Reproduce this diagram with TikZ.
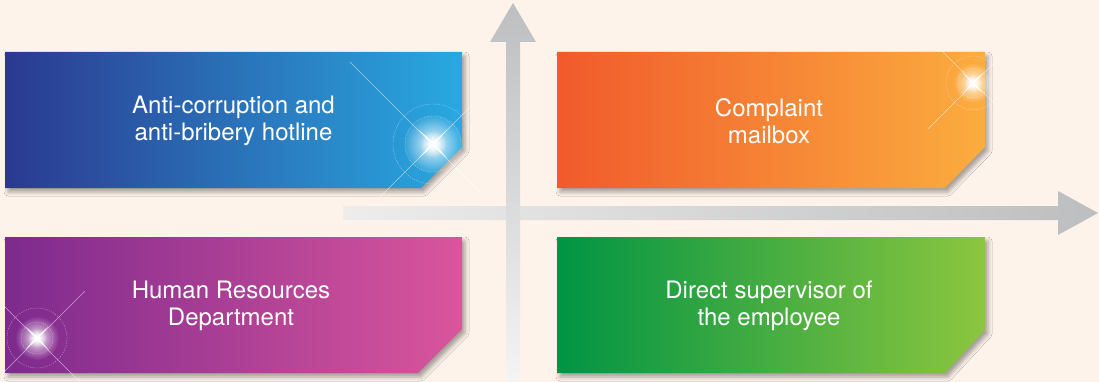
\documentclass[tikz,border=0pt]{standalone}
\usepackage{fontspec}
\setmainfont{TeX Gyre Heros}
\usetikzlibrary{shadows,shadows.blur,fadings}
\tikzfading[name=glowfade, inner color=transparent!0, outer color=transparent!100]
\definecolor{bg}{HTML}{FDF3EB}
\definecolor{arrowgray}{HTML}{BCBEC0}
\definecolor{arrowlight}{HTML}{EEEDEC}
\definecolor{blueL}{HTML}{2B3990}
\definecolor{blueR}{HTML}{29A9E0}
\definecolor{orangeL}{HTML}{F15A2B}
\definecolor{orangeR}{HTML}{FBAD3F}
\definecolor{purpleL}{HTML}{7D2A8E}
\definecolor{purpleR}{HTML}{DA559C}
\definecolor{greenL}{HTML}{009444}
\definecolor{greenR}{HTML}{8CC63F}
\tikzset{
  card/.style={blur shadow={shadow xshift=3pt,shadow yshift=-4pt,shadow blur radius=4pt,shadow opacity=35}},
  lbl/.style={text=white,align=center,font=\fontsize{24}{27.5}\selectfont,inner sep=0pt},
  ray/.style={white,line width=0.6pt,opacity=0.55},
  ring/.style={white,line width=0.4pt,opacity=0.5,dash pattern=on 1.2pt off 1.2pt},
}
\newcommand{\glint}[6]{% x y glowradius starsize ring1 ring2
  \begin{scope}[shift={(#1,#2)}]
    \draw[ring] (0,0) circle (#5);
    \draw[ring] (0,0) circle (#6);
    \fill[white,path fading=glowfade,opacity=0.9] (0,0) circle (#3);
    \fill[white,path fading=glowfade] (0,0) circle (#3*0.45);
    \fill[white,opacity=0.9] (#4,#4) -- (1.6,0) -- (#4,-#4) -- (0,-1.6) -- (-#4,-#4) -- (-1.6,0) -- (-#4,#4) -- (0,1.6) -- cycle;
    \fill[white,opacity=0.8] (#4*0.6,0) -- (0,0.9) -- (-#4*0.6,0) -- (0,-0.9) -- cycle;
    \fill[white,opacity=0.8] (0,#4*0.6) -- (0.9,0) -- (0,-#4*0.6) -- (-0.9,0) -- cycle;
  \end{scope}}
\begin{document}
\begin{tikzpicture}[x=1pt,y=-1pt]
\useasboundingbox (0,0) rectangle (1099,382);
\fill[bg] (0,0) rectangle (1099,382);

% axes
\shade[left color=arrowlight,right color=arrowgray]
  (343,206) -- (1058,206) -- (1058,191) -- (1098,213) -- (1058,235) -- (1058,220) -- (343,220) -- cycle;
\shade[top color=arrowgray,bottom color=arrowlight!60!white]
  (506,382) -- (506,42) -- (490,42) -- (513,3) -- (536,42) -- (520,42) -- (520,382) -- cycle;

% cards
\shade[card,left color=blueL,right color=blueR]
  (5,52) -- (462,52) -- (462,147) -- (421,188) -- (5,188) -- cycle;
\shade[card,left color=orangeL,right color=orangeR]
  (557,52) -- (985,52) -- (985,147) -- (945,188) -- (557,188) -- cycle;
\shade[card,left color=purpleL,right color=purpleR]
  (5,237) -- (462,237) -- (462,329) -- (418,373) -- (5,373) -- cycle;
\shade[card,left color=greenL,right color=greenR]
  (557,237) -- (985,237) -- (985,330) -- (945,373) -- (557,373) -- cycle;

% sparkles
\draw[ray] (350,62) -- (482,194);
\draw[ray] (380,197) -- (482,95);
\glint{433}{144}{30}{14}{40}{28}
\draw[ray] (928,129) -- (1012,45);
\draw[ray] (933,42) -- (1013,122);
\glint{973}{83}{20}{10}{27}{15}
\draw[ray] (85,291) -- (0,376);
\draw[ray] (0,302) -- (80,382);
\glint{37}{338}{22}{11}{30}{16}

% labels
\node[lbl] (hotline) at (233.5,121) {Anti-corruption and\\anti-bribery hotline};
\node[lbl] (mailbox) at (769,121) {Complaint\\mailbox};
\node[lbl] (hr) at (231,306) {Human Resources\\Department};
\node[lbl] (supervisor) at (769,306) {Direct supervisor of\\the employee};
\end{tikzpicture}
\end{document}
